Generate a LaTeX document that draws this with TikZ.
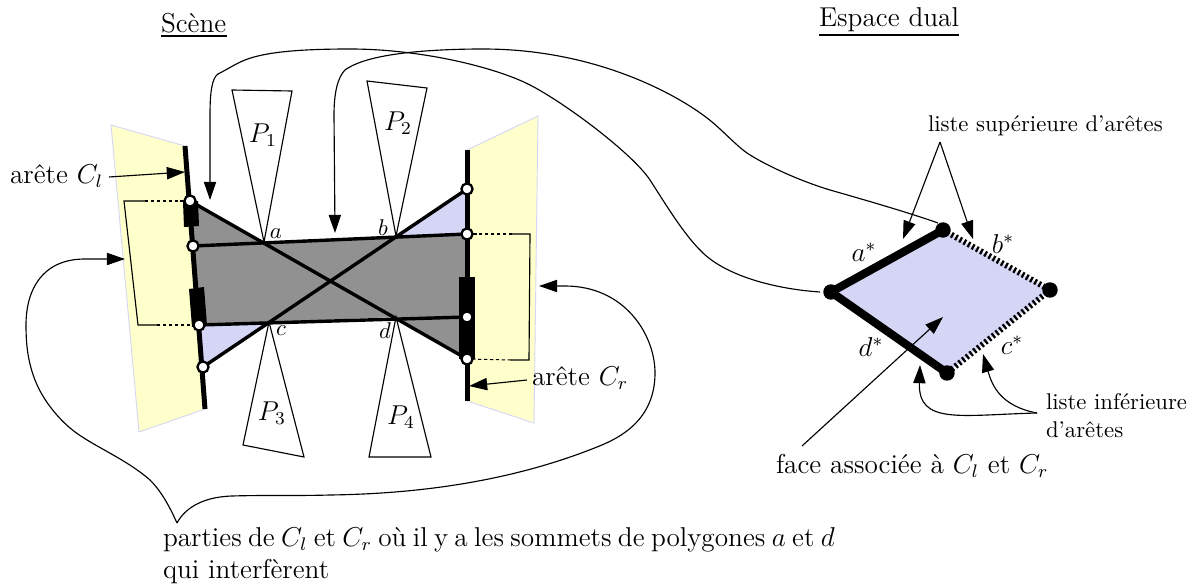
\documentclass[tikz,border=0pt]{standalone}
\usetikzlibrary{arrows.meta}
\definecolor{paleyellow}{HTML}{FFFFCC}
\definecolor{paleblue}{HTML}{D5D6F5}
\definecolor{midgray}{HTML}{919191}
\tikzset{
  thinline/.style={line width=0.5pt,line join=miter},
  dotline/.style={line width=0.45pt,dash pattern=on 1.5pt off 1.1pt},
  pointer/.style={line width=0.5pt,-{Triangle[length=8pt,width=5.4pt]}},
  edgeline/.style={line width=2.2pt,line cap=butt},
  crossline/.style={line width=1.5pt,line cap=round},
  vertexdot/.style={circle,draw=black,fill=white,line width=1pt,minimum size=4.9pt,inner sep=0pt},
  dualdot/.style={circle,fill=black,minimum size=6.8pt,inner sep=0pt},
  solidedge/.style={line width=3.6pt,line cap=round},
  dottededge/.style={line width=2.6pt,dash pattern=on 1pt off 1.1pt},
  label/.style={anchor=base west,inner sep=0pt,outer sep=0pt},
  zonefill/.style={fill=paleyellow,draw=paleblue,line width=0.4pt},
  wedge/.style={draw=black,fill=white,line width=0.5pt,line join=miter},
  vlabel/.style={inner sep=0pt,font=\normalsize},
  plabel/.style={inner sep=0pt,font=\large},
}
\begin{document}
\begin{tikzpicture}[x=0.44pt,y=-0.44pt]
\useasboundingbox (0,0) rectangle (1194,584);
% yellow zones
\filldraw[zonefill] (111,125) -- (185,146) -- (205,409) -- (139,432) -- cycle;
\filldraw[zonefill] (467,150) -- (538,116) -- (534,423) -- (467,401) -- cycle;
% key points
\coordinate (L1) at (190,201); \coordinate (L2) at (193,246);
\coordinate (L3) at (199,325); \coordinate (L4) at (203,367);
\coordinate (R1) at (467,189); \coordinate (R2) at (467,234);
\coordinate (R3) at (467,317); \coordinate (R4) at (467,359);
\coordinate (a) at (264,242); \coordinate (b) at (396,236);
\coordinate (c) at (269,322); \coordinate (d) at (396,317);
\coordinate (LT) at (185,146); \coordinate (LB) at (205,409);
\coordinate (RT) at (467,150); \coordinate (RB) at (467,401);
% faces
\fill[paleblue] (b) -- (R1) -- (R2) -- cycle;
\fill[paleblue] (c) -- (L3) -- (L4) -- cycle;
\fill[midgray] (L1) -- (a) -- (b) -- (R2) -- (R4) -- (d) -- (c) -- (L3) -- cycle;
% wedges
\draw[wedge] (a) -- (232,90) -- (292,91) -- cycle;
\draw[wedge] (b) -- (367,81) -- (427,88) -- cycle;
\draw[wedge] (c) -- (243,445) -- (304,457) -- cycle;
\draw[wedge] (d) -- (369,457) -- (431,457) -- cycle;
% bars
\fill[black] (183,202) -- (198,201) -- (199,226) -- (184,227) -- cycle;
\fill[black] (189,289) -- (204,287) -- (207,325) -- (192,327) -- cycle;
\fill[black] (459,277) rectangle (475,359);
\draw[edgeline] (LT) -- (LB);
\draw[edgeline] (RT) -- (RB);
% crossing lines
\draw[crossline] (L1) -- (R4);
\draw[crossline] (L4) -- (R1);
\draw[crossline] (L2) -- (R2);
\draw[crossline] (L3) -- (R3);
% brackets
\draw[thinline] (145,201) -- (124,201) -- (138,325) -- (157,325);
\draw[thinline] (512,234) -- (530,234) -- (529,360) -- (511,360);
\draw[dotline] (145,201) -- (L1);
\draw[dotline] (157,325) -- (L3);
\draw[dotline] (512,234) -- (R2);
\draw[dotline] (511,360) -- (R4);
% vertices
\node[vertexdot] (vL1) at (L1) {}; \node[vertexdot] (vL2) at (L2) {};
\node[vertexdot] (vL3) at (L3) {}; \node[vertexdot] (vL4) at (L4) {};
\node[vertexdot] (vR1) at (R1) {}; \node[vertexdot] (vR2) at (R2) {};
\node[vertexdot] (vR3) at (R3) {}; \node[vertexdot] (vR4) at (R4) {};
% dual
\coordinate (DL) at (831,292); \coordinate (DT) at (943,230);
\coordinate (DR) at (1050,290); \coordinate (DB) at (947,373);
\fill[paleblue] (DL) -- (DT) -- (DR) -- (DB) -- cycle;
\draw[dottededge] (DT) -- (DR);
\draw[dottededge] (DR) -- (DB);
\draw[solidedge] (DL) -- (DT);
\draw[solidedge] (DL) -- (DB);
\node[dualdot] (dL) at (DL) {}; \node[dualdot] (dT) at (DT) {};
\node[dualdot] (dR) at (DR) {}; \node[dualdot] (dB) at (DB) {};
% labels
\node[label,font=\large] (scene) at (161,33) {Scène};
\node[label,font=\large] (dual) at (819,27) {Espace dual};
\draw[line width=0.6pt] (161,36) -- (227,36);
\draw[line width=1.1pt] (819,35) -- (959,35);
\node[label,font=\large] (cl) at (10,183) {arête $C_l$};
\node[label,font=\large] (cr) at (532,385) {arête $C_r$};
\node[plabel] (p1) at (263,135) {$P_1$};
\node[plabel] (p2) at (398,123) {$P_2$};
\node[plabel] (p3) at (272,413) {$P_3$};
\node[plabel] (p4) at (401,417) {$P_4$};
\node[vlabel] (la) at (276,234) {$a$};
\node[vlabel] (lb) at (383,228) {$b$};
\node[vlabel] (lc) at (281,331) {$c$};
\node[vlabel] (ld) at (385,331) {$d$};
\node[plabel] (as) at (864,252) {$a^*$};
\node[plabel] (bs) at (1003,244) {$b^*$};
\node[plabel] (cs) at (1012,345) {$c^*$};
\node[plabel] (ds) at (871,347) {$d^*$};
\node[label,font=\normalsize] (sup) at (928,131) {liste supérieure d’arêtes};
\node[label,font=\normalsize,align=left] (inf) at (1046,437) {\baselineskip=8.4pt liste inférieure\\d’arêtes};
\node[label,font=\large] (face) at (776,473) {face associée à $C_l$ et $C_r$};
\node[label,font=\large,align=left] (part) at (163,578) {\baselineskip=13.2pt\spaceskip=2.8pt plus 1pt minus 1pt parties de $C_l$ et $C_r$ où il y a les sommets de polygones $a$ et $d$\\qui interfèrent};
% pointers
\coordinate (clfrom) at (109,177); \coordinate (clto) at (185,172);
\coordinate (crfrom) at (527,380); \coordinate (crto) at (469,386);
\draw[pointer] (clfrom) -- (clto);
\draw[pointer] (crfrom) -- (crto);
\coordinate (supapex) at (940,142);
\coordinate (supa) at (903,239); \coordinate (supb) at (973,239);
\draw[pointer] (supapex) -- (supa);
\draw[pointer] (supapex) -- (supb);
\coordinate (facefrom) at (802,446); \coordinate (faceto) at (943,317);
\draw[pointer] (facefrom) -- (faceto);
\coordinate (infapex) at (1037,413);
\coordinate (infa) at (920,365); \coordinate (infb) at (983,354);
\draw[pointer] (infapex) .. controls (960,415) and (918,425) .. (infa);
\draw[pointer] (infapex) .. controls (1000,406) and (992,385) .. (infb);
% long curves
\coordinate (tip1) at (210,200); \coordinate (tip2) at (335,233);
\coordinate (end1) at (820,292); \coordinate (end2) at (938,223);
\draw[pointer] (end1) .. controls (775,289) and (727,276) .. (703,253)
  .. controls (685,236) and (668,208) .. (650,180)
  .. controls (632,153) and (565,103) .. (530,85)
  .. controls (495,67) and (420,49) .. (350,49)
  .. controls (300,49) and (265,52) .. (245,60)
  .. controls (235,64) and (228,69) .. (218,74)
  .. controls (212,78) and (210,92) .. (210,115)
  -- (tip1);
\draw[pointer] (end2) .. controls (910,213) and (865,200) .. (830,190)
  .. controls (800,181) and (765,165) .. (747,153)
  .. controls (733,143) and (720,127) .. (703,115)
  .. controls (680,98) and (600,49) .. (483,49)
  .. controls (440,49) and (400,52) .. (375,58)
  .. controls (362,61) and (352,65) .. (345,70)
  .. controls (338,77) and (334,92) .. (334,115)
  -- (tip2);
% bottom brace
\coordinate (brace) at (177,523);
\coordinate (tipl) at (125,259); \coordinate (tipr) at (539,286);
\draw[pointer] (brace) .. controls (168,503) and (160,490) .. (150,480)
  .. controls (125,458) and (90,445) .. (70,428)
  .. controls (55,415) and (42,398) .. (35,380)
  .. controls (28,362) and (26,345) .. (26,325)
  .. controls (26,290) and (42,259) .. (85,259)
  -- (tipl);
\draw[pointer] (brace) .. controls (184,510) and (200,497) .. (232,496)
  .. controls (265,495) and (295,496) .. (330,495)
  .. controls (400,494) and (500,486) .. (597,447)
  .. controls (620,438) and (655,420) .. (655,373)
  .. controls (655,335) and (625,286) .. (565,286)
  -- (tipr);
\end{tikzpicture}
\end{document}
